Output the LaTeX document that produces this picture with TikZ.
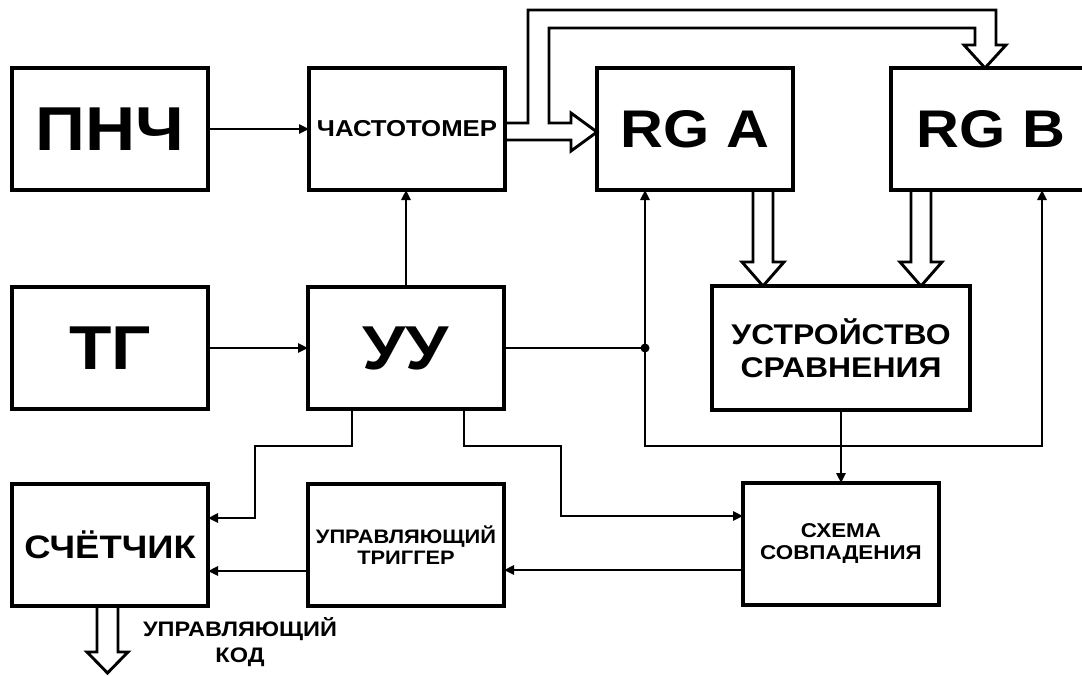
\documentclass[tikz,border=0pt]{standalone}
\usepackage{fontspec}
\newfontfamily\blkfont{Liberation Sans}[FakeStretch=1.12]
\usetikzlibrary{arrows.meta,positioning}

\begin{document}
\begin{tikzpicture}[
    x=1pt, y=-1pt,
    blk/.style={draw,line width=3.1pt,minimum width=196pt,minimum height=122pt,
                inner sep=0pt,outer sep=0pt,align=center},
    bigtxt/.style={font=\blkfont\bfseries\fontsize{62}{62}\selectfont},
    rgtxt/.style={font=\blkfont\bfseries\fontsize{53}{53}\selectfont},
    midtxt/.style={font=\blkfont\bfseries\fontsize{28.5}{33}\selectfont},
    smalltxt/.style={font=\blkfont\bfseries\fontsize{20}{22}\selectfont},
    ln/.style={line width=2.7pt},
    arr/.style={-{Triangle[length=10pt,width=9pt]},line width=2.7pt},
    bus/.style={line width=2.9pt,line join=miter}
]
\path[fill=white,use as bounding box] (0,0) rectangle (1082,675);

% top row
\node[blk,bigtxt] (pnch) at (110,129) {ПНЧ};
\node[blk,font=\blkfont\bfseries\fontsize{23}{23}\selectfont,right=101pt of pnch] (freq) {ЧАСТОТОМЕР};
\node[blk,rgtxt,right=92pt of freq] (rga) {RG A};
\node[blk,rgtxt,minimum width=200pt,right=98pt of rga] (rgb) {RG B};

% middle row
\node[blk,bigtxt,below=97pt of pnch] (tg) {ТГ};
\node[blk,bigtxt,right=100pt of tg] (uu) {УУ};
\node[blk,midtxt,minimum width=258pt,minimum height=124pt] (cmp) at (841,348) {УСТРОЙСТВО\\СРАВНЕНИЯ};

% bottom row
\node[blk,font=\blkfont\bfseries\fontsize{32.5}{32.5}\selectfont,below=75pt of tg] (cnt) {СЧЁТЧИК};
\node[blk,font=\blkfont\bfseries\fontsize{19.5}{21}\selectfont,below=75pt of uu] (trg) {УПРАВЛЯЮЩИЙ\\ТРИГГЕР};
\node[blk,smalltxt,below=73pt of cmp] (coin) {СХЕМА\\СОВПАДЕНИЯ};
\node[font=\blkfont\bfseries\fontsize{21}{26}\selectfont,align=center] (code) at (240,642) {УПРАВЛЯЮЩИЙ\\КОД};

% signal lines
\draw[arr] (pnch.east) -- (freq.west |- pnch.east);
\draw[arr] (tg.east) -- (uu.west |- tg.east);
\draw[arr] (uu.north) -- (uu.north |- freq.south);

\coordinate (jn) at (645,0 |- uu.east);
\draw[ln] (uu.east) -- (jn);
\fill (jn) circle (4.5pt);
\draw[arr] (jn) -- (jn |- rga.south);
\draw[arr] (jn) |- (1042,446) -- (1042,0 |- rgb.south);
\draw[arr] (cmp.south) -- (cmp.south |- coin.north);

\draw[arr] (352,0 |- uu.south) |- (255,446) |- (cnt.east |- 0,518);
\draw[arr] (464,0 |- uu.south) |- (561,446) |- (coin.west |- 0,516);
\draw[arr] (coin.west |- 0,570) -- (trg.east |- 0,570);
\draw[arr] (trg.west |- 0,571) -- (cnt.east |- 0,571);

% buses
\draw[bus] (freq.east |- 0,123) -- (528,123) -- (528,10) -- (996,10) -- (996,45)
    -- (1006,45) -- (985,0 |- rgb.north) -- (964,45) -- (975,45) -- (975,28)
    -- (549,28) -- (549,123) -- (571,123) -- (571,113) -- (rga.west |- 0,132)
    -- (571,151) -- (571,140) -- (freq.east |- 0,140);
\draw[bus] (753,0 |- rga.south) -- (753,262) -- (742,262) -- (763,0 |- cmp.north)
    -- (784,262) -- (773,262) -- (773,0 |- rga.south);
\draw[bus] (911,0 |- rgb.south) -- (911,262) -- (900,262) -- (921,0 |- cmp.north)
    -- (942,262) -- (931,262) -- (931,0 |- rgb.south);
\draw[bus] (97,0 |- cnt.south) -- (97,652) -- (87,652) -- (107.5,673)
    -- (128,652) -- (118,652) -- (118,0 |- cnt.south);
\end{tikzpicture}
\end{document}
